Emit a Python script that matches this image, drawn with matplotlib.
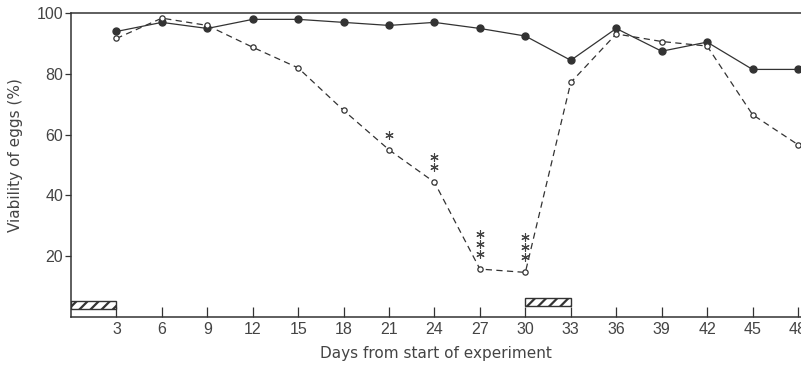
import matplotlib
matplotlib.use("Agg")
import matplotlib.pyplot as plt
import matplotlib.transforms as mtransforms

# ---- data ----
days = [3, 6, 9, 12, 15, 18, 21, 24, 27, 30, 33, 36, 39, 42, 45, 48]
control = [94, 97, 95, 98, 98, 97, 96, 97, 95, 92.5, 84.5, 95, 87.5, 90.5, 81.5, 81.5]
treated = [91.7, 98.4, 96, 88.8, 82, 68, 55, 44.3, 15.7, 14.6, 77.2, 93.2, 90.7, 89.2, 66.6, 56.7]
sig_days = [21, 24, 27, 30]
sig_stars = [1, 2, 3, 3]
treat_start = [0, 30]
treat_len = [3, 3]
bar_bottom = [2.6, 3.4]
bar_height = [2.5, 2.7]
xticks = [3, 6, 9, 12, 15, 18, 21, 24, 27, 30, 33, 36, 39, 42, 45, 48]
yticks = [20, 40, 60, 80, 100]

plt.rcParams['font.family'] = ['Liberation Sans', 'DejaVu Sans']
plt.rcParams['hatch.linewidth'] = 1.6
ink = '#333333'
txt = '#444444'

fig = plt.figure(figsize=(8.01, 3.68), dpi=100)
ax = fig.add_axes([0.0886, 0.1394, 0.9114, 0.8245])

ax.plot(days, control, '-', color=ink, lw=0.9, marker='o', ms=5,
        mfc=ink, mec=ink, zorder=3)
ax.plot(days, treated, '--', color=ink, lw=0.9, dashes=(5, 3.5), marker='o', ms=3.8,
        mfc='white', mec=ink, mew=0.9, zorder=4)

# significance asterisks stacked above the treated points
sig_vals = [treated[days.index(d)] for d in sig_days]
for level in range(max(sig_stars)):
    xs = [d for d, n in zip(sig_days, sig_stars) if n > level]
    ys = [v for v, n in zip(sig_vals, sig_stars) if n > level]
    tr = mtransforms.offset_copy(ax.transData, fig=fig, x=0, y=11 + 7.2 * level,
                                 units='points')
    ax.plot(xs, ys, linestyle='none', marker=(6, 2, 0), ms=6, mew=0.8,
            color='#444444', transform=tr, zorder=5)

# treatment bars
ax.bar(treat_start, bar_height, width=treat_len, bottom=bar_bottom, align='edge',
       facecolor='white', edgecolor=ink, hatch='///', lw=1.0, zorder=2)

ax.set_xlim(0, 48.2)
ax.set_ylim(0, 100)
ax.set_xticks(xticks)
ax.set_xticklabels([str(t) for t in xticks])
ax.set_yticks(yticks)
ax.set_yticklabels([str(t) for t in yticks])

ax.tick_params(axis='x', direction='in', length=7, width=0.9, pad=4,
               labelsize=11.5, colors=ink, labelcolor=txt)
ax.tick_params(axis='y', direction='out', length=4.5, width=0.9, pad=1,
               labelsize=11.5, colors=ink, labelcolor=txt)

for s in ['left', 'bottom', 'top']:
    ax.spines[s].set_color(ink)
    ax.spines[s].set_linewidth(1.1)
ax.spines['right'].set_visible(False)

ax.set_xlabel('Days from start of experiment', fontsize=11, color=txt,
              family='DejaVu Sans', labelpad=6)
ax.set_ylabel('Viability of eggs (%)', fontsize=11, color=txt, family='DejaVu Sans')
ax.yaxis.set_label_coords(-0.066, 0.534)

fig.savefig('out.png', dpi=100)
